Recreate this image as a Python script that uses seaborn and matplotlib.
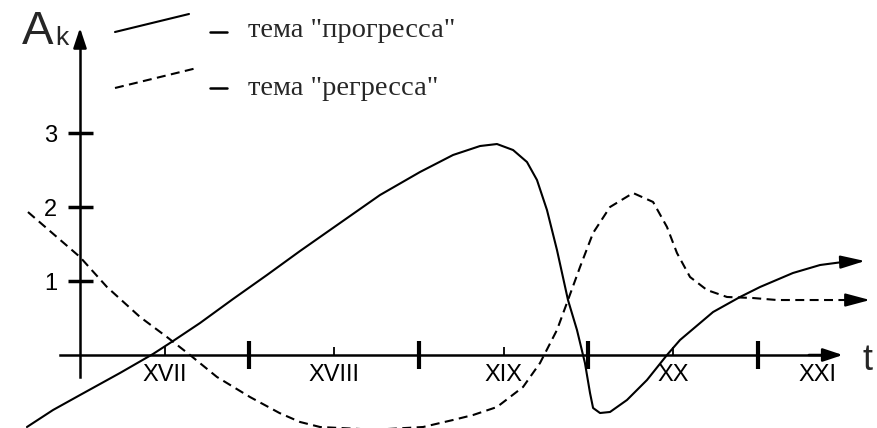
import numpy as np
import pandas as pd
import matplotlib
matplotlib.use("Agg")
import matplotlib.pyplot as plt
import seaborn as sns

# ---- data (t in centuries counted from 1600, A_k values) ----
prog_t = [-0.313, -0.159, 0.0, 0.236, 0.431, 0.549, 0.708, 0.903, 1.103, 1.298, 1.475,
          1.770, 2.006, 2.201, 2.360, 2.460, 2.555, 2.637, 2.696, 2.755, 2.814, 2.879,
          2.932, 2.979, 3.009, 3.027, 3.068, 3.127, 3.227, 3.345, 3.463, 3.540, 3.735,
          3.894, 4.012, 4.206, 4.366, 4.501]
prog_a = [-0.973, -0.743, -0.541, -0.243, 0.014, 0.189, 0.432, 0.757, 1.081, 1.405, 1.689,
          2.162, 2.473, 2.703, 2.824, 2.851, 2.770, 2.608, 2.365, 1.959, 1.419, 0.743,
          0.338, -0.108, -0.514, -0.716, -0.784, -0.770, -0.608, -0.338, 0.0, 0.203, 0.581,
          0.784, 0.919, 1.108, 1.216, 1.257]
regr_t = [-0.307, 0.0, 0.159, 0.354, 0.513, 0.649, 0.808, 1.003, 1.177, 1.298, 1.416,
          1.740, 2.024, 2.201, 2.319, 2.460, 2.614, 2.714, 2.814, 2.879, 2.950, 3.027,
          3.127, 3.263, 3.381, 3.463, 3.522, 3.599, 3.699, 3.817, 3.971, 4.112, 4.543]
regr_a = [1.932, 1.324, 0.919, 0.514, 0.243, 0.0, -0.297, -0.568, -0.784, -0.905, -0.973,
          -1.01, -0.973, -0.878, -0.811, -0.703, -0.432, -0.108, 0.338, 0.743, 1.189, 1.649,
          2.0, 2.189, 2.068, 1.730, 1.378, 1.054, 0.878, 0.784, 0.770, 0.743, 0.743]
prog_tip = (4.631, 1.27)
regr_tip = (4.661, 0.743)

y_ticks = [1, 2, 3]
century_pos = [0.5, 1.5, 2.5, 3.5]
century_labels = ["XVII", "XVIII", "XIX", "XX"]
last_century_pos = 4.35
last_century_label = "XXI"
major_x = [1, 2, 3, 4]
legend_labels = ['тема "прогресса"', 'тема "регресса"']

df = pd.concat([
    pd.DataFrame({"t": prog_t, "A": prog_a, "theme": "progress"}),
    pd.DataFrame({"t": regr_t, "A": regr_a, "theme": "regress"}),
])

sns.set_theme(style="white")
plt.rcParams["font.family"] = ["Liberation Sans", "DejaVu Sans"]

W, H = 878, 428
fig = plt.figure(figsize=(W / 100, H / 100), dpi=100)
ax = fig.add_axes([0, 0, 1, 1])
ax.set_facecolor("white")

sns.lineplot(data=df, x="t", y="A", style="theme", estimator=None, sort=False,
             dashes={"progress": "", "regress": (4.3, 2.6)}, color="black",
             linewidth=1.5, legend=False, ax=ax)
for ln in ax.lines:
    ln.set_solid_joinstyle("round")
    ln.set_dash_joinstyle("round")

ax.set_xlim(-80 / 169.5, 798 / 169.5)
ax.set_ylim(-73 / 74, 355 / 74)
ax.set_xlabel("")
ax.set_ylabel("")

# curve end arrows
arrow_kw = dict(arrowstyle="-|>,head_length=0.75,head_width=0.2", color="black",
                lw=1.5, mutation_scale=20, shrinkA=0, shrinkB=0)
ax.annotate("", xy=prog_tip, xytext=(prog_t[-1], prog_a[-1]), arrowprops=arrow_kw)
ax.annotate("", xy=regr_tip, xytext=(regr_t[-1], regr_a[-1]), arrowprops=arrow_kw)

# axes as spines through the origin
for s in ["top", "right"]:
    ax.spines[s].set_visible(False)
ax.spines["left"].set_position(("data", 0))
ax.spines["bottom"].set_position(("data", 0))
ax.spines["left"].set_bounds(-0.30, 4.3)
ax.spines["bottom"].set_bounds(-0.12, 4.4)
for s in ["left", "bottom"]:
    ax.spines[s].set_linewidth(1.8)
    ax.spines[s].set_color("black")
    ax.spines[s].set_zorder(1)

axis_arrow = dict(arrowstyle="-|>,head_length=0.6,head_width=0.2", color="black",
                  lw=1.8, mutation_scale=20, shrinkA=0, shrinkB=0)
ax.annotate("", xy=(4.5, 0), xytext=(4.3, 0), arrowprops=axis_arrow)
ax.annotate("", xy=(0, 4.42), xytext=(0, 4.2), arrowprops=axis_arrow)

ax.set_yticks(y_ticks)
ax.set_yticklabels([str(v) for v in y_ticks])
ax.tick_params(axis="y", direction="inout", length=18, width=2.5, pad=7.5,
               labelsize=17, colors="black", left=True)
ax.set_xticks(major_x)
ax.set_xticklabels([])
ax.set_xticks(century_pos, minor=True)
ax.set_xticklabels(century_labels, minor=True)
ax.tick_params(axis="x", which="major", direction="inout", length=20, width=3,
               bottom=True, colors="black")
ax.tick_params(axis="x", which="minor", direction="in", length=6, width=1.3,
               pad=6.5, labelsize=17, bottom=True, colors="black")
ax.annotate(last_century_label, xy=(last_century_pos, 0), xytext=(0, -6.5),
            textcoords="offset points", ha="center", va="top", fontsize=17,
            color="black")

# axis names
fig.text(38 / W, 1 - 32 / H, "A", fontsize=34, ha="center", va="center")
fig.text(62 / W, 1 - 38 / H, "k", fontsize=19, ha="center", va="center")
fig.text(868 / W, 1 - 361 / H, "t", fontsize=26, ha="center", va="center")

# legend swatches
fig.add_artist(plt.Line2D([115 / W, 189 / W], [1 - 32 / H, 1 - 14 / H], color="black",
                          lw=1.5, transform=fig.transFigure))
fig.add_artist(plt.Line2D([115 / W, 197 / W], [1 - 88 / H, 1 - 68 / H], color="black",
                          lw=1.5, ls=(0, (4.3, 2.6)), transform=fig.transFigure))
for yy, base, lab in zip([32, 88], [37, 95], legend_labels):
    fig.add_artist(plt.Line2D([210 / W, 227 / W], [1 - yy / H, 1 - yy / H], color="black",
                              lw=1.8, transform=fig.transFigure))
    fig.text(248 / W, 1 - base / H, lab, fontsize=20.5, ha="left", va="baseline",
             family=["Liberation Serif", "DejaVu Serif"])

fig.savefig("out.png", dpi=100, facecolor="white")
